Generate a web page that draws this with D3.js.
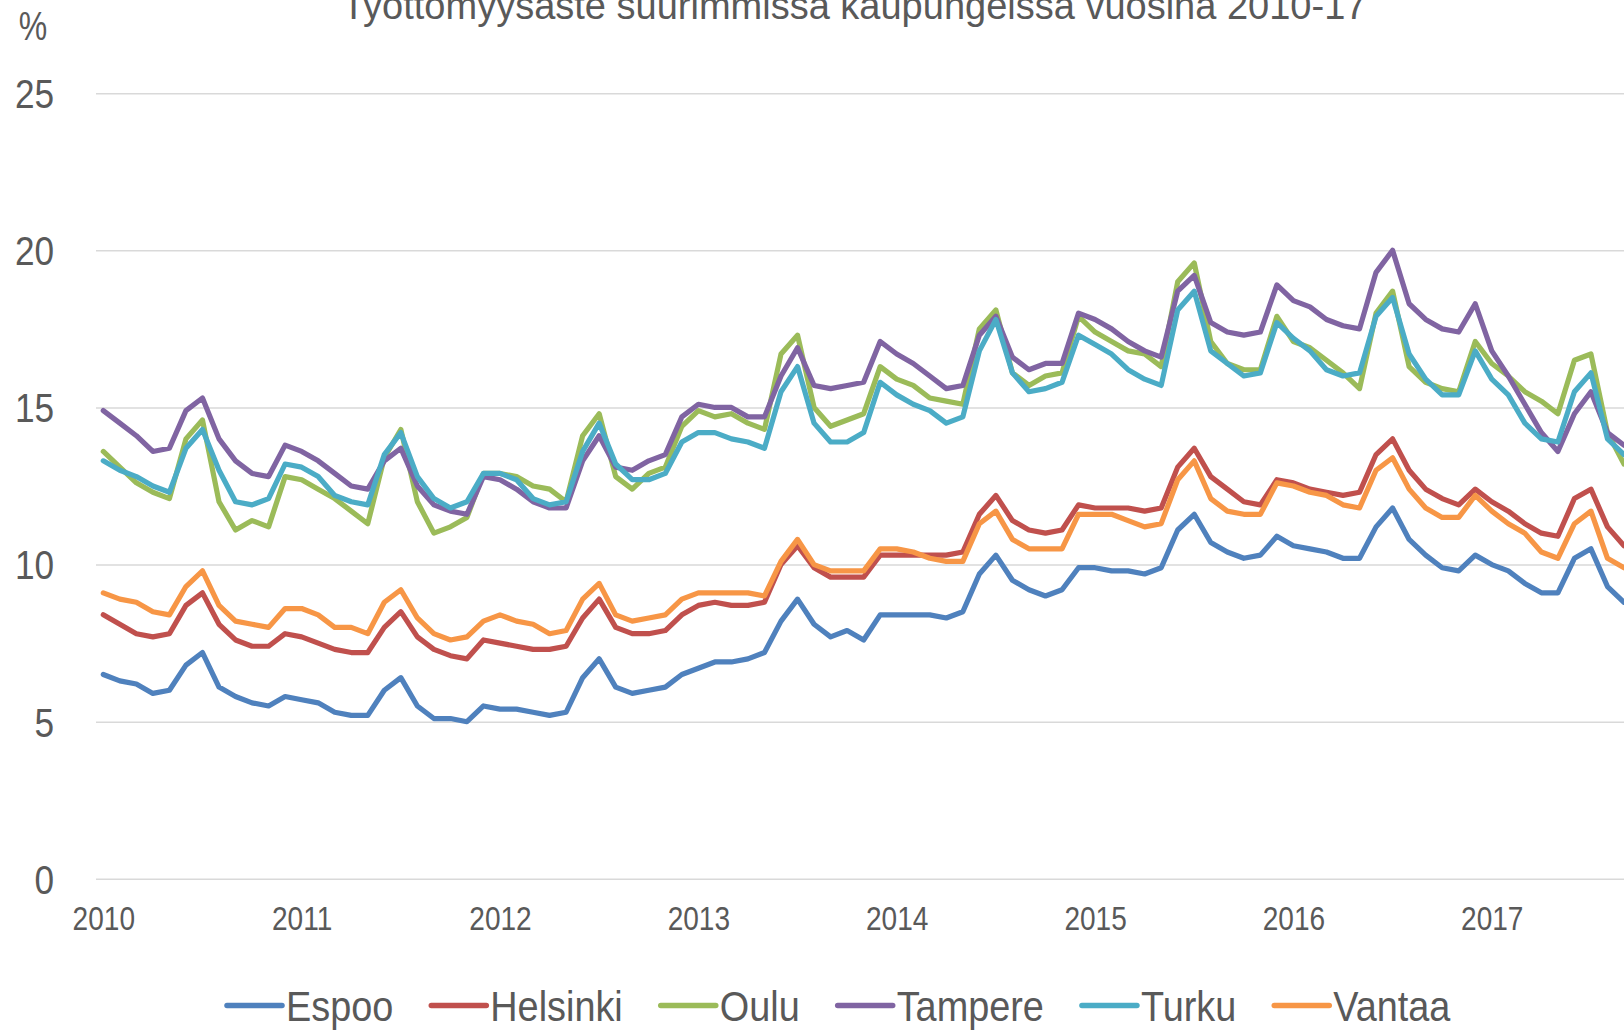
<!DOCTYPE html>
<html>
<head>
<meta charset="utf-8">
<script src="https://cdn.jsdelivr.net/npm/d3@7"></script>
<style>
  html, body { margin: 0; padding: 0; background: #ffffff; }
  svg { display: block; }
  text { font-family: "Liberation Sans", Arial, sans-serif; fill: #595959; }
</style>
</head>
<body>
<svg id="chart" width="1624" height="1030"></svg>
<script>
// ---- data ----
const titleText = "Työttömyysaste suurimmissa kaupungeissa vuosina 2010-17";
const unitLabel = "%";
const yTicks = [0, 5, 10, 15, 20, 25];
const yearLabels = ["2010", "2011", "2012", "2013", "2014", "2015", "2016", "2017"];
const cities = ["Espoo", "Helsinki", "Oulu", "Tampere", "Turku", "Vantaa"];
const colors = ["#4F81BD", "#C0504D", "#9BBB59", "#8064A2", "#4BACC6", "#F79646"];
// monthly categories Jan 2010 .. Sep 2017
const months = d3.timeMonth.range(new Date(2010, 0, 1), new Date(2017, 9, 1));

const espoo = [
  6.5, 6.3, 6.2, 5.9, 6.0, 6.8, 7.2, 6.1, 5.8, 5.6, 5.5, 5.8,
  5.7, 5.6, 5.3, 5.2, 5.2, 6.0, 6.4, 5.5, 5.1, 5.1, 5.0, 5.5,
  5.4, 5.4, 5.3, 5.2, 5.3, 6.4, 7.0, 6.1, 5.9, 6.0, 6.1, 6.5,
  6.7, 6.9, 6.9, 7.0, 7.2, 8.2, 8.9, 8.1, 7.7, 7.9, 7.6, 8.4,
  8.4, 8.4, 8.4, 8.3, 8.5, 9.7, 10.3, 9.5, 9.2, 9.0, 9.2, 9.9,
  9.9, 9.8, 9.8, 9.7, 9.9, 11.1, 11.6, 10.7, 10.4, 10.2, 10.3, 10.9,
  10.6, 10.5, 10.4, 10.2, 10.2, 11.2, 11.8, 10.8, 10.3, 9.9, 9.8, 10.3,
  10.0, 9.8, 9.4, 9.1, 9.1, 10.2, 10.5, 9.3, 8.8
];
const helsinki = [
  8.4, 8.1, 7.8, 7.7, 7.8, 8.7, 9.1, 8.1, 7.6, 7.4, 7.4, 7.8,
  7.7, 7.5, 7.3, 7.2, 7.2, 8.0, 8.5, 7.7, 7.3, 7.1, 7.0, 7.6,
  7.5, 7.4, 7.3, 7.3, 7.4, 8.3, 8.9, 8.0, 7.8, 7.8, 7.9, 8.4,
  8.7, 8.8, 8.7, 8.7, 8.8, 10.0, 10.6, 9.9, 9.6, 9.6, 9.6, 10.3,
  10.3, 10.3, 10.3, 10.3, 10.4, 11.6, 12.2, 11.4, 11.1, 11.0, 11.1, 11.9,
  11.8, 11.8, 11.8, 11.7, 11.8, 13.1, 13.7, 12.8, 12.4, 12.0, 11.9, 12.7,
  12.6, 12.4, 12.3, 12.2, 12.3, 13.5, 14.0, 13.0, 12.4, 12.1, 11.9, 12.4,
  12.0, 11.7, 11.3, 11.0, 10.9, 12.1, 12.4, 11.2, 10.6
];
const oulu = [
  13.6, 13.1, 12.6, 12.3, 12.1, 14.0, 14.6, 12.0, 11.1, 11.4, 11.2, 12.8,
  12.7, 12.4, 12.1, 11.7, 11.3, 13.4, 14.3, 12.0, 11.0, 11.2, 11.5, 12.9,
  12.9, 12.8, 12.5, 12.4, 12.0, 14.1, 14.8, 12.8, 12.4, 12.9, 13.1, 14.4,
  14.9, 14.7, 14.8, 14.5, 14.3, 16.7, 17.3, 15.0, 14.4, 14.6, 14.8, 16.3,
  15.9, 15.7, 15.3, 15.2, 15.1, 17.5, 18.1, 16.1, 15.7, 16.0, 16.1, 17.9,
  17.4, 17.1, 16.8, 16.7, 16.3, 19.0, 19.6, 17.1, 16.4, 16.2, 16.2, 17.9,
  17.1, 16.9, 16.5, 16.1, 15.6, 18.0, 18.7, 16.3, 15.8, 15.6, 15.5, 17.1,
  16.4, 16.0, 15.5, 15.2, 14.8, 16.5, 16.7, 14.2, 13.2
];
const tampere = [
  14.9, 14.5, 14.1, 13.6, 13.7, 14.9, 15.3, 14.0, 13.3, 12.9, 12.8, 13.8,
  13.6, 13.3, 12.9, 12.5, 12.4, 13.3, 13.7, 12.5, 11.9, 11.7, 11.6, 12.8,
  12.7, 12.4, 12.0, 11.8, 11.8, 13.3, 14.1, 13.1, 13.0, 13.3, 13.5, 14.7,
  15.1, 15.0, 15.0, 14.7, 14.7, 16.0, 16.9, 15.7, 15.6, 15.7, 15.8, 17.1,
  16.7, 16.4, 16.0, 15.6, 15.7, 17.3, 17.9, 16.6, 16.2, 16.4, 16.4, 18.0,
  17.8, 17.5, 17.1, 16.8, 16.6, 18.7, 19.2, 17.7, 17.4, 17.3, 17.4, 18.9,
  18.4, 18.2, 17.8, 17.6, 17.5, 19.3, 20.0, 18.3, 17.8, 17.5, 17.4, 18.3,
  16.8, 16.0, 15.1, 14.2, 13.6, 14.8, 15.5, 14.2, 13.8
];
const turku = [
  13.3, 13.0, 12.8, 12.5, 12.3, 13.7, 14.3, 13.0, 12.0, 11.9, 12.1, 13.2,
  13.1, 12.8, 12.2, 12.0, 11.9, 13.5, 14.2, 12.8, 12.1, 11.8, 12.0, 12.9,
  12.9, 12.7, 12.1, 11.9, 12.0, 13.6, 14.5, 13.2, 12.7, 12.7, 12.9, 13.9,
  14.2, 14.2, 14.0, 13.9, 13.7, 15.5, 16.3, 14.5, 13.9, 13.9, 14.2, 15.8,
  15.4, 15.1, 14.9, 14.5, 14.7, 16.8, 17.8, 16.1, 15.5, 15.6, 15.8, 17.3,
  17.0, 16.7, 16.2, 15.9, 15.7, 18.1, 18.7, 16.8, 16.4, 16.0, 16.1, 17.7,
  17.2, 16.8, 16.2, 16.0, 16.1, 17.9, 18.5, 16.7, 15.9, 15.4, 15.4, 16.8,
  15.9, 15.4, 14.5, 14.0, 13.9, 15.5, 16.1, 14.0, 13.5
];
const vantaa = [
  9.1, 8.9, 8.8, 8.5, 8.4, 9.3, 9.8, 8.7, 8.2, 8.1, 8.0, 8.6,
  8.6, 8.4, 8.0, 8.0, 7.8, 8.8, 9.2, 8.3, 7.8, 7.6, 7.7, 8.2,
  8.4, 8.2, 8.1, 7.8, 7.9, 8.9, 9.4, 8.4, 8.2, 8.3, 8.4, 8.9,
  9.1, 9.1, 9.1, 9.1, 9.0, 10.1, 10.8, 10.0, 9.8, 9.8, 9.8, 10.5,
  10.5, 10.4, 10.2, 10.1, 10.1, 11.3, 11.7, 10.8, 10.5, 10.5, 10.5, 11.6,
  11.6, 11.6, 11.4, 11.2, 11.3, 12.7, 13.3, 12.1, 11.7, 11.6, 11.6, 12.6,
  12.5, 12.3, 12.2, 11.9, 11.8, 13.0, 13.4, 12.4, 11.8, 11.5, 11.5, 12.2,
  11.7, 11.3, 11.0, 10.4, 10.2, 11.3, 11.7, 10.2, 9.9
];
const seriesValues = [espoo, helsinki, oulu, tampere, turku, vantaa];

// ---- layout ----
const W = 1624, H = 1030;
const svg = d3.select("#chart");
const fmt = d3.timeFormat("%Y-%m");
const keys = months.map(fmt);

const x = d3.scalePoint().domain(keys).range([103.3, 1624]);
const y = d3.scaleLinear().domain([0, 25]).range([878.8, 93.2]);

// horizontally condense a text around its anchor x
function squeeze(sel, sx) {
  sel.each(function () {
    const t = d3.select(this);
    const ax = +t.attr("x") || 0;
    t.attr("transform", `translate(${ax * (1 - sx)},0) scale(${sx},1)`);
  });
}

// gridlines + y labels
const gridLeft = 96;
const yAxis = d3.axisLeft(y)
  .tickValues(yTicks)
  .tickSizeInner(-(W - gridLeft + 10))
  .tickSizeOuter(0)
  .tickPadding(42)
  .tickFormat(d3.format("d"));
const gy = svg.append("g").attr("transform", `translate(${gridLeft},0)`).call(yAxis);
gy.select(".domain").remove();
gy.selectAll(".tick line").attr("stroke", "#D9D9D9").attr("stroke-width", 1.5);
gy.selectAll(".tick text")
  .attr("fill", "#595959")
  .style("font-size", "40px")
  .attr("dy", "0.36em")
  .attr("font-family", null)
  .call(squeeze, 0.88);

// x labels
const janKeys = keys.filter(k => k.endsWith("-01"));
const xAxis = d3.axisBottom(x)
  .tickValues(janKeys)
  .tickSize(0)
  .tickPadding(0)
  .tickFormat((d, i) => yearLabels[i]);
const gx = svg.append("g").attr("transform", `translate(0,918)`).call(xAxis);
gx.select(".domain").remove();
gx.selectAll(".tick text")
  .attr("fill", "#595959")
  .style("font-size", "33px")
  .attr("y", 0)
  .attr("dy", "0.36em")
  .attr("font-family", null)
  .call(squeeze, 0.85);

// lines
const line = d3.line()
  .x((d, i) => x(keys[i]))
  .y(d => y(d));
svg.append("g").selectAll("path")
  .data(seriesValues)
  .join("path")
  .attr("d", d => line(d))
  .attr("fill", "none")
  .attr("stroke", (d, i) => colors[i])
  .attr("stroke-width", 5.2)
  .attr("stroke-linejoin", "round")
  .attr("stroke-linecap", "round");

// title (cut at top, as in the reference)
svg.append("text")
  .attr("x", 342)
  .attr("y", 19)
  .style("font-size", "38px")
  .text(titleText);

// unit label
svg.append("text")
  .attr("x", 33)
  .attr("y", 40)
  .attr("text-anchor", "middle")
  .style("font-size", "40px")
  .text(unitLabel)
  .call(squeeze, 0.8);

// legend
const legend = svg.append("g");
const legendSx = 0.88;
let lx = 227;
const ly = 1005.5;
cities.forEach((name, i) => {
  legend.append("line")
    .attr("x1", lx).attr("x2", lx + 55)
    .attr("y1", ly).attr("y2", ly)
    .attr("stroke", colors[i])
    .attr("stroke-width", 5.5)
    .attr("stroke-linecap", "round");
  const t = legend.append("text")
    .attr("x", lx + 59)
    .attr("y", ly)
    .attr("dy", "0.36em")
    .style("font-size", "43px")
    .text(name)
    .call(squeeze, legendSx);
  lx = lx + 59 + t.node().getComputedTextLength() * legendSx + 38;
});
</script>
</body>
</html>
